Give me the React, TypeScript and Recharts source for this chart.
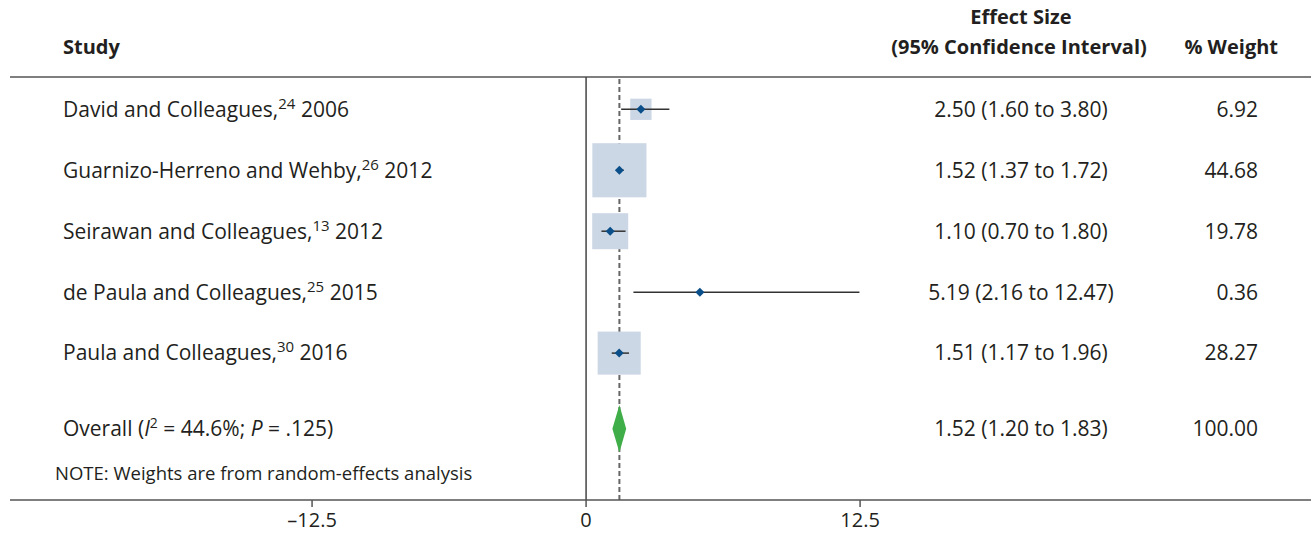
// Forest plot — effect sizes with 95% CI, random-effects weights

import {
  ComposedChart,
  Scatter,
  XAxis,
  YAxis,
  ErrorBar,
  ReferenceLine,
  ReferenceArea,
  Customized,
} from "recharts"

const studies  = ["David and Colleagues", "Guarnizo-Herreno and Wehby", "Seirawan and Colleagues", "de Paula and Colleagues", "Paula and Colleagues"]
const refs     = ["24", "26", "13", "25", "30"]
const years    = ["2006", "2012", "2012", "2015", "2016"]
const effect   = [2.50, 1.52, 1.10, 5.19, 1.51]
const lower    = [1.60, 1.37, 0.70, 2.16, 1.17]
const upper    = [3.80, 1.72, 1.80, 12.47, 1.96]
const weights  = [6.92, 44.68, 19.78, 0.36, 28.27]

const overallEffect = 1.52
const overallLower  = 1.20
const overallUpper  = 1.83
const overallWeight = 100.0
const overallI2     = "44.6%"
const overallP      = ".125"

const xTicks = [-12.5, 0, 12.5]

const FONT = "'Open Sans', sans-serif"
const TEXT = "#231f20"
const AXIS = "#555555"

// row positions on the (reversed) y axis
const Y_TOP = 0.47
const Y_BOTTOM = 7.41
const OVERALL_ROW = 6.24
const NOTE_ROW = 6.97

const rows = studies.map((s, i) => ({
  x: effect[i],
  y: i + 1,
  w: weights[i],
  err: [effect[i] - lower[i], upper[i] - effect[i]],
}))

const labelRows = [
  ...studies.map((s, i) => ({ x: 0, y: i + 1, idx: i })),
  { x: 0, y: OVERALL_ROW, idx: -1 },
]

function fmtTick(v: number) {
  return v < 0 ? `\u2013${Math.abs(v)}` : `${v}`
}

function WeightBox(props: any) {
  const { cx, cy, payload } = props
  const side = 8.1 * Math.sqrt(payload.w)
  return <rect x={cx - side / 2} y={cy - side / 2} width={side} height={side} fill="#ccd7e5" />
}

function PointMarker(props: any) {
  const { cx, cy } = props
  const r = 4.5
  return (
    <polygon
      points={`${cx - r},${cy} ${cx},${cy - r} ${cx + r},${cy} ${cx},${cy + r}`}
      fill="#0b4f8a"
    />
  )
}

function OverallDiamond(props: any) {
  const { x, y, width, height } = props
  const frac = (overallEffect - overallLower) / (overallUpper - overallLower)
  const mx = x + width * frac
  const my = y + height / 2
  return (
    <polygon
      points={`${x},${my} ${mx},${y} ${x + width},${my} ${mx},${y + height}`}
      fill="#3fae49"
    />
  )
}

function RowLabels(props: any) {
  const { cy, payload } = props
  const i = payload.idx
  const fs = 21
  if (i < 0) {
    return (
      <g fontFamily={FONT} fontSize={fs} fill={TEXT}>
        <text x={63} y={cy} dy="0.35em">
          Overall (<tspan fontStyle="italic">I</tspan>
          <tspan fontSize={14} dy={-8}>2</tspan>
          <tspan dy={8}> = {overallI2}; </tspan>
          <tspan fontStyle="italic">P</tspan> = {overallP})
        </text>
        <text x={1021} y={cy} dy="0.35em" textAnchor="middle">
          {`${overallEffect.toFixed(2)} (${overallLower.toFixed(2)} to ${overallUpper.toFixed(2)})`}
        </text>
        <text x={1258} y={cy} dy="0.35em" textAnchor="end">
          {overallWeight.toFixed(2)}
        </text>
      </g>
    )
  }
  return (
    <g fontFamily={FONT} fontSize={fs} fill={TEXT}>
      <text x={63} y={cy} dy="0.35em">
        {studies[i]},<tspan fontSize={15} dy={-8}>{refs[i]}</tspan>
        <tspan dy={8}> {years[i]}</tspan>
      </text>
      <text x={1021} y={cy} dy="0.35em" textAnchor="middle">
        {`${effect[i].toFixed(2)} (${lower[i].toFixed(2)} to ${upper[i].toFixed(2)})`}
      </text>
      <text x={1258} y={cy} dy="0.35em" textAnchor="end">
        {weights[i].toFixed(2)}
      </text>
    </g>
  )
}

function Headers() {
  return (
    <g fontFamily={FONT} fontSize={20} fontWeight="bold" fill={TEXT}>
      <text x={63} y={47} dy="0.35em">Study</text>
      <text x={1021} y={17} dy="0.35em" textAnchor="middle">Effect Size</text>
      <text x={1019} y={47} dy="0.35em" textAnchor="middle">(95% Confidence Interval)</text>
      <text x={1278} y={47} dy="0.35em" textAnchor="end">% Weight</text>
    </g>
  )
}

function NoteText(props: any) {
  const { cy } = props
  return (
    <text x={55} y={cy} dy="0.35em" fontFamily={FONT} fontSize={18.5} fill={TEXT}>
      NOTE: Weights are from random-effects analysis
    </text>
  )
}

export default function App() {
  return (
    <div style={{ position: "absolute", left: 0, top: 0, background: "#fff" }}>
      <ComposedChart
        width={1311}
        height={535}
        margin={{ top: 77, right: 0, left: 10, bottom: 0 }}
      >
        <XAxis
          type="number"
          dataKey="x"
          domain={[-26.28, 33.07]}
          allowDataOverflow
          ticks={xTicks}
          tickFormatter={fmtTick}
          tickSize={7}
          tickMargin={6}
          height={35}
          axisLine={{ stroke: AXIS, strokeWidth: 1.5 }}
          tickLine={{ stroke: AXIS, strokeWidth: 1.5 }}
          tick={{ fill: TEXT, fontSize: 20, fontFamily: FONT }}
        />
        <YAxis type="number" dataKey="y" domain={[Y_TOP, Y_BOTTOM]} reversed hide allowDataOverflow />

        <ReferenceLine y={Y_TOP} stroke={AXIS} strokeWidth={1.5} zIndex={10} />
        <ReferenceLine x={0} stroke="#444" strokeWidth={1.5} zIndex={10} />
        <ReferenceLine x={overallEffect} stroke="#666" strokeWidth={2} strokeDasharray="5 3" zIndex={20} />

        <Scatter data={rows} shape={<WeightBox />} isAnimationActive={false} zIndex={30} />
        <Scatter data={rows} shape={<PointMarker />} isAnimationActive={false} zIndex={50}>
          <ErrorBar dataKey="err" direction="x" width={0} stroke="#333" strokeWidth={1.5} zIndex={40} />
        </Scatter>

        <ReferenceArea
          x1={overallLower}
          x2={overallUpper}
          y1={OVERALL_ROW - 0.39}
          y2={OVERALL_ROW + 0.39}
          shape={<OverallDiamond />}
          zIndex={60}
        />

        <Scatter data={labelRows} shape={<RowLabels />} isAnimationActive={false} zIndex={70} />
        <Scatter data={[{ x: 0, y: NOTE_ROW }]} shape={<NoteText />} isAnimationActive={false} zIndex={70} />

        <Customized component={Headers} />
      </ComposedChart>
    </div>
  )
}
